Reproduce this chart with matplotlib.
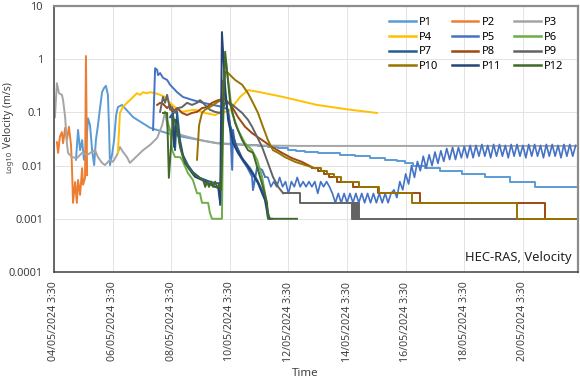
import numpy as np
import matplotlib
matplotlib.use("Agg")
import matplotlib.pyplot as plt

plt.rcParams['font.family'] = ['Noto Sans', 'DejaVu Sans']

# ---------------- data (time in days since 04/05/2024 3:30, log10 velocity) -------------
tick_labels = ["04/05/2024 3:30", "06/05/2024 3:30", "08/05/2024 3:30", "10/05/2024 3:30",
               "12/05/2024 3:30", "14/05/2024 3:30", "16/05/2024 3:30", "18/05/2024 3:30",
               "20/05/2024 3:30"]
y_tick_vals = [1e-4, 1e-3, 1e-2, 1e-1, 1, 10]
y_tick_labels = ["0.0001", "0.001", "0.01", "0.1", "1", "10"]

P1_day = [0.75,0.82,0.89,0.96,1.02,1.09,1.16,1.23,1.30,1.37,1.43,1.50,1.57,1.64,1.71,1.77,1.84,1.88,1.91,1.98,2.05,2.12,2.18,2.32,2.70,3.28,3.86,4.40,4.98,5.56,6.35,6.69]
P1_log = [-1.89,-1.33,-1.71,-1.52,-1.89,-1.71,-1.11,-1.24,-1.71,-1.99,-1.52,-1.24,-0.92,-0.62,-0.54,-0.50,-0.67,-1.33,-1.99,-1.80,-1.52,-1.05,-0.90,-0.86,-1.09,-1.29,-1.39,-1.46,-1.52,-1.58,-1.60,-1.62]
P1_step_day = [6.69,6.96,7.30,7.65,7.99,8.26,8.57,9.01,9.76,10.27,10.78,11.30,11.71,11.98,12.25,12.66,13.17,13.92,14.71,15.56,16.42,17.88]
P1_step_val = [0.024,0.023,0.022,0.021,0.020,0.019,0.018,0.017,0.016,0.015,0.014,0.013,0.012,0.011,0.010,0.009,0.008,0.007,0.006,0.005,0.004,0.004]

P2_day = [0.10,0.14,0.20,0.27,0.31,0.38,0.44,0.51,0.58,0.61,0.65,0.72,0.78,0.82,0.89,0.96,0.99,1.06,1.09,1.13]
P2_log = [-1.56,-1.76,-1.46,-1.37,-1.58,-1.29,-1.52,-1.27,-1.61,-1.99,-2.70,-2.31,-2.70,-2.27,-2.55,-2.05,-2.36,-2.23,0.06,-2.18]

P3_day = [0.03,0.10,0.17,0.27,0.31,0.38,0.44,0.48,0.61,0.78,0.96,1.13,1.30,1.40,1.50,1.64,1.74,1.91,2.01,2.15,2.25,2.35,2.49,2.59,2.70,2.87,3.04,3.28,3.52,3.69,3.79,3.89,4.13,4.57,5.15,5.73,6.69,8.40,17.88]
P3_log = [-1.09,-0.45,-0.64,-0.67,-0.77,-1.09,-1.58,-1.76,-1.84,-1.86,-1.76,-1.80,-1.74,-1.71,-1.84,-1.95,-1.99,-1.89,-1.93,-1.80,-1.65,-1.74,-1.84,-1.95,-1.89,-1.80,-1.71,-1.61,-1.48,-1.24,-0.99,-1.33,-1.39,-1.46,-1.54,-1.59,-1.62,-1.63,-1.63]

P4_day = [2.18,2.25,2.35,2.49,2.59,2.70,2.83,2.94,3.04,3.17,3.28,3.45,3.62,3.79,3.96,4.13,4.37,4.54,4.81,5.15,5.49,5.73,5.94,6.01,6.35,6.62,7.03,7.82,8.98,10.10,11.02]
P4_log = [-1.76,-1.01,-0.90,-0.82,-0.77,-0.71,-0.64,-0.67,-0.62,-0.64,-0.62,-0.64,-0.67,-0.71,-0.82,-0.90,-0.99,-0.97,-0.95,-1.01,-1.05,-0.99,-0.99,-0.95,-0.71,-0.58,-0.62,-0.71,-0.86,-0.95,-1.01]

P5_day = [3.38,3.45,3.52,3.55,3.62,3.72,3.86,3.96,4.20,4.40,4.74,5.09,5.43,5.77,5.94,6.01,6.08,6.11,6.18,6.28,6.42,6.59,6.76,6.79,6.93,7.10,7.20]
P5_log = [-1.33,-0.17,-0.20,-0.30,-0.26,-0.35,-0.39,-0.48,-0.62,-0.71,-0.77,-0.82,-0.86,-0.90,-0.95,-1.27,-2.08,-1.33,-1.65,-1.76,-1.89,-2.03,-2.21,-2.46,-2.03,-2.08,-2.21]
# oscillating tail, one value every 0.1 day starting at day 7.3
P5_tail_start = 7.3
P5_tail_step = 0.1
P5_tail_val = [0.006,0.004,0.005,0.004,0.006,0.004,0.005,0.003,0.005,0.004,0.006,0.004,0.005,0.004,0.005,0.004,0.005,0.003,0.005,0.004,0.005,0.004,
               0.003,0.002,0.003,0.002,0.003,0.002,0.003,0.002,0.003,0.002,0.003,0.002,0.003,0.002,0.003,0.002,0.003,0.002,0.003,0.002,0.003,
               0.0035,0.0025,0.005,0.0035,0.007,0.0045,0.010,0.006,0.012,0.008,0.015,0.009,0.016,0.010,0.018,0.011,0.019,0.012,0.021,0.013,
               0.022,0.013,0.022,0.014,0.023,0.014,0.024,0.014,0.024,0.015,
               0.025,0.015,0.024,0.014,0.025,0.015,0.025,0.015,0.024,0.014,0.025,0.015,0.025,0.015,0.024,0.014,0.025,0.015,
               0.025,0.015,0.024,0.014,0.025,0.015,0.025,0.015,0.024,0.014,0.025,0.015,0.025,0.015,0.024]

P6_day = [3.79,3.89,3.96,4.03,4.13,4.30,4.37,4.57,4.74,4.88,4.98,5.05,5.26,5.32,5.39,5.73,5.80,5.87,6.08,6.28,6.52,6.76,6.93,7.10,7.20,7.30,7.37]
P6_log = [-0.99,-1.20,-1.33,-1.71,-1.84,-1.84,-1.89,-2.14,-2.27,-2.52,-2.52,-2.70,-2.70,-2.89,-3.0,-3.0,0.04,-0.07,-1.01,-1.33,-1.58,-1.71,-1.89,-2.21,-2.52,-2.89,-3.0]

P7_day = [3.96,4.06,4.13,4.20,4.30,4.40,4.57,4.74,4.98,5.26,5.49,5.63,5.67,5.77,5.87,6.01,6.21,6.42,6.69,6.93,7.10,7.24,7.34,7.44]
P7_log = [-1.09,-1.01,-1.71,-0.99,-1.52,-1.80,-1.99,-2.12,-2.23,-2.29,-2.33,-2.33,-2.74,-0.40,-0.80,-1.24,-1.61,-1.86,-2.05,-2.27,-2.46,-2.70,-3.0,-3.0]

P8_day = [3.52,3.62,3.72,3.86,3.96,4.03,4.20,4.37,4.54,4.71,4.88,5.05,5.22,5.39,5.60,5.84,6.08,6.28,6.52,6.76,7.10,7.44,7.78,8.12,8.46,8.81]
P8_log = [-0.86,-0.82,-0.84,-0.92,-0.86,-0.99,-0.92,-1.01,-1.05,-1.01,-0.99,-0.92,-0.90,-0.82,-0.77,-0.75,-0.90,-1.09,-1.27,-1.39,-1.52,-1.65,-1.76,-1.86,-1.93,-2.03]
P8_step_day = [8.81,9.00,9.20,9.40,9.66,10.20,11.06,12.49,16.76,17.88]
P8_step_val = [0.009,0.008,0.007,0.006,0.005,0.004,0.003,0.002,0.001,0.001]

P9_day = [3.62,3.72,3.79,3.86,3.96,4.03,4.13,4.23,4.37,4.54,4.71,4.88,4.98,5.05,5.15,5.32,5.49,5.67,5.84,6.01,6.18,6.42,6.62,6.76,6.93,7.10,7.30,7.47,7.65,7.82]
P9_log = [-0.99,-0.71,-0.82,-0.67,-0.95,-0.90,-1.01,-0.92,-0.90,-0.82,-0.86,-0.82,-0.77,-0.80,-0.86,-0.95,-0.99,-1.01,-0.82,-0.82,-0.90,-1.01,-1.14,-1.27,-1.46,-1.65,-1.95,-2.21,-2.40,-2.52]
P9_step_day = [7.82,8.40,10.17,10.20,10.23,10.26,10.29,10.32,10.35,10.38,10.41,10.44,17.88]
P9_step_val = [0.003,0.002,0.001,0.002,0.001,0.002,0.001,0.002,0.001,0.002,0.001,0.001,0.001]

P10_day = [4.88,4.95,5.05,5.15,5.26,5.43,5.60,5.70,5.77,5.84,5.94,6.18,6.42,6.62,6.79,6.96,7.13,7.30,7.47,7.65,7.88,8.23,8.57,8.91]
P10_log = [-1.89,-1.24,-1.01,-0.95,-0.92,-0.86,-0.80,-0.77,-0.52,-0.24,-0.26,-0.39,-0.48,-0.64,-0.82,-1.01,-1.27,-1.52,-1.71,-1.76,-1.84,-1.93,-1.99,-2.05]
P10_step_day = [8.91,9.10,9.30,9.55,9.80,10.40,11.10,12.22,15.80,17.88]
P10_step_val = [0.009,0.008,0.007,0.006,0.005,0.004,0.003,0.002,0.001,0.001]

P11_day = [4.03,4.10,4.16,4.30,4.37,4.47,4.57,4.71,4.81,5.05,5.26,5.49,5.60,5.67,5.73,5.84,5.94,6.11,6.28,6.52,6.76,6.96,7.10,7.20,7.30,7.37]
P11_log = [-1.09,-1.65,-1.14,-1.61,-1.76,-1.95,-2.03,-2.14,-2.21,-2.27,-2.33,-2.40,-2.40,-2.70,0.51,-0.52,-1.14,-1.58,-1.76,-1.95,-2.14,-2.33,-2.52,-2.65,-2.97,-3.0]

P12_day = [3.72,3.86,3.92,4.06,4.20,4.30,4.40,4.57,4.74,4.91,5.09,5.16,5.22,5.29,5.36,5.43,5.50,5.57,5.64,5.70,5.84,6.01,6.18,6.42,6.62,6.79,6.96,7.13,7.27,7.30,8.29]
P12_log = [-1.01,-1.01,-2.23,-1.09,-1.27,-1.65,-1.84,-2.03,-2.14,-2.21,-2.27,-2.40,-2.30,-2.40,-2.30,-2.40,-2.30,-2.42,-2.35,-2.46,0.14,-0.82,-1.20,-1.52,-1.71,-1.76,-2.08,-2.40,-2.70,-3.0,-3.0]

colors = {"P1": "#5B9BD5", "P2": "#ED7D31", "P3": "#A5A5A5", "P4": "#FFC000",
          "P5": "#4472C4", "P6": "#70AD47", "P7": "#255E91", "P8": "#9E480E",
          "P9": "#636363", "P10": "#997300", "P11": "#264478", "P12": "#43682B"}

heads = {"P1": (P1_day, P1_log), "P2": (P2_day, P2_log), "P3": (P3_day, P3_log),
         "P4": (P4_day, P4_log), "P5": (P5_day, P5_log), "P6": (P6_day, P6_log),
         "P7": (P7_day, P7_log), "P8": (P8_day, P8_log), "P9": (P9_day, P9_log),
         "P10": (P10_day, P10_log), "P11": (P11_day, P11_log), "P12": (P12_day, P12_log)}
steps = {"P1": (P1_step_day, P1_step_val), "P8": (P8_step_day, P8_step_val),
         "P9": (P9_step_day, P9_step_val), "P10": (P10_step_day, P10_step_val)}

# ---------------- figure ----------------
fig = plt.figure(figsize=(5.8, 3.81), dpi=100)
ax = fig.add_axes([54/580, 1-272/381, (578-54)/580, (272-6)/381])

lw = 1.4
handles = {}
for name in heads:
    d, lg = heads[name]
    c = colors[name]
    ln, = ax.plot(d, 10**np.array(lg), color=c, lw=lw, label=name, solid_joinstyle='round')
    handles[name] = ln
    if name in steps:
        sd, sv = steps[name]
        ax.plot(sd, sv, color=c, lw=lw, drawstyle='steps-post')
    if name == "P5":
        tail_t = P5_tail_start + P5_tail_step*np.arange(len(P5_tail_val))
        ax.plot(np.concatenate([[P5_day[-1]], tail_t]),
                np.concatenate([[10**P5_log[-1]], P5_tail_val]), color=c, lw=1.2)

ax.set_yscale('log')
ax.set_ylim(1e-4, 10)
ax.set_xlim(0, 17.88)
ax.set_yticks(y_tick_vals)
ax.set_yticklabels(y_tick_labels, fontsize=8, color='#404040')
ax.yaxis.set_minor_locator(matplotlib.ticker.NullLocator())
ax.set_xticks(np.arange(len(tick_labels))*2)
ax.set_xticklabels(tick_labels, rotation=90, fontsize=7.6, color='#404040', va='top')
ax.tick_params(axis='both', length=0)
ax.tick_params(axis='x', pad=7)
ax.tick_params(axis='y', pad=8)
ax.grid(True, which='major', color='#E3E3E3', lw=0.7)
ax.set_axisbelow(True)

for s in ['left', 'bottom']:
    ax.spines[s].set_color('#404040')
    ax.spines[s].set_linewidth(1.1)
for s in ['top', 'right']:
    ax.spines[s].set_color('#8C8C8C')
    ax.spines[s].set_linewidth(1.6)

ax.text(0.9885, 0.053, "HEC-RAS, Velocity", transform=ax.transAxes, ha='right', va='center',
        fontsize=9.3, color='#202020')

fig.text(305/580, 1-374/381, "Time", ha='center', va='center', fontsize=8.3, color='#404040')
fig.text(9/580, 1-115/381, "Velocity (m/s)", rotation=90, ha='center', va='center',
         fontsize=7.5, color='#404040')
fig.text(10/580, 1-162/381, "Log10", rotation=90, ha='center', va='center',
         fontsize=5.5, color='#404040')

order = ["P1", "P4", "P7", "P10", "P2", "P5", "P8", "P11", "P3", "P6", "P9", "P12"]
leg = ax.legend([handles[k] for k in order], order, ncol=3, loc='upper right',
                bbox_to_anchor=(0.985, 0.985), frameon=False,
                fontsize=8, handlelength=2.4, columnspacing=1.2, handletextpad=0.3,
                labelspacing=0.35, borderaxespad=0.2)
for h in leg.get_lines():
    h.set_linewidth(1.8)

fig.savefig("out.png", dpi=100)
